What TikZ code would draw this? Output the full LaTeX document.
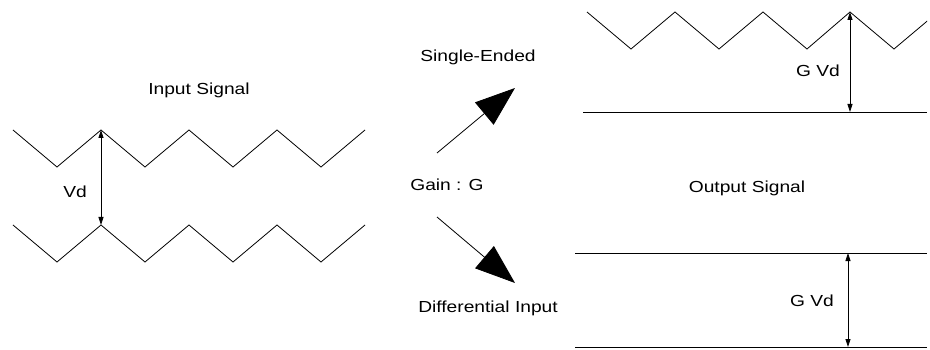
\documentclass[tikz,border=0pt]{standalone}
\usepackage{fontspec}
\setmainfont{Liberation Sans}[FakeStretch=1.2]
\usetikzlibrary{arrows.meta}
\begin{document}
\begin{tikzpicture}[x=1pt,y=-1pt,
  wave/.style={line width=0.8pt, line join=miter},
  lbl/.style={font=\fontsize{16}{18}\selectfont, anchor=base, inner sep=0pt},
  dim/.style={line width=0.8pt, {Triangle[length=8pt,width=5pt]}-{Triangle[length=8pt,width=5pt]}},
  bigarrow/.style={line width=0.8pt, -{Triangle[length=40pt,width=29pt]}}]
\useasboundingbox (0,0) rectangle (930,350);
% Input waves
\draw[wave] (13,130) -- (57,167) -- (101,130) -- (145,167) -- (189,130) -- (233,167) -- (277,130) -- (321,167) -- (365,130);
\draw[wave] (13,225) -- (57,262) -- (101,225) -- (145,262) -- (189,225) -- (233,262) -- (277,225) -- (321,262) -- (365,225);
\coordinate (vdt) at (101,130);
\coordinate (vdb) at (101,225);
\draw[dim] (vdt) -- (vdb);
\node[lbl] (vd) at (75,197) {Vd};
\node[lbl] (insig) at (199,95) {Input Signal};
% Middle
\node[lbl] (single) at (478,62) {Single-Ended};
\node[lbl] (gain) at (447,190.5) {Gain : G};
\node[lbl] (diff) at (488,312.5) {Differential Input};
\coordinate (upS) at (437,153);
\coordinate (upT) at (515,88);
\coordinate (dnS) at (437,217);
\coordinate (dnT) at (515,283);
\draw[bigarrow] (upS) -- (upT);
\draw[bigarrow] (dnS) -- (dnT);
% Output top
\begin{scope}
\clip (0,0) rectangle (927,350);
\draw[wave] (587,12) -- (631,49) -- (675,12) -- (719,49) -- (763,12) -- (807,49) -- (850,12) -- (894,49) -- (938,12);
\end{scope}
\coordinate (b1l) at (583,112);
\coordinate (b1r) at (927,112);
\draw[wave] (b1l) -- (b1r);
\coordinate (g1t) at (850,12);
\coordinate (g1b) at (850,112);
\draw[dim] (g1t) -- (g1b);
\node[lbl] (gvd1) at (818,76.5) {G Vd};
\node[lbl] (outsig) at (747,193) {Output Signal};
% Output bottom
\coordinate (l2l) at (575,253);
\coordinate (l2r) at (927,253);
\coordinate (l3l) at (575,347);
\coordinate (l3r) at (927,347);
\draw[wave] (l2l) -- (l2r);
\draw[wave] (l3l) -- (l3r);
\coordinate (g2t) at (848,253);
\coordinate (g2b) at (848,347);
\draw[dim] (g2t) -- (g2b);
\node[lbl] (gvd2) at (812,306.5) {G Vd};
\end{tikzpicture}
\end{document}
